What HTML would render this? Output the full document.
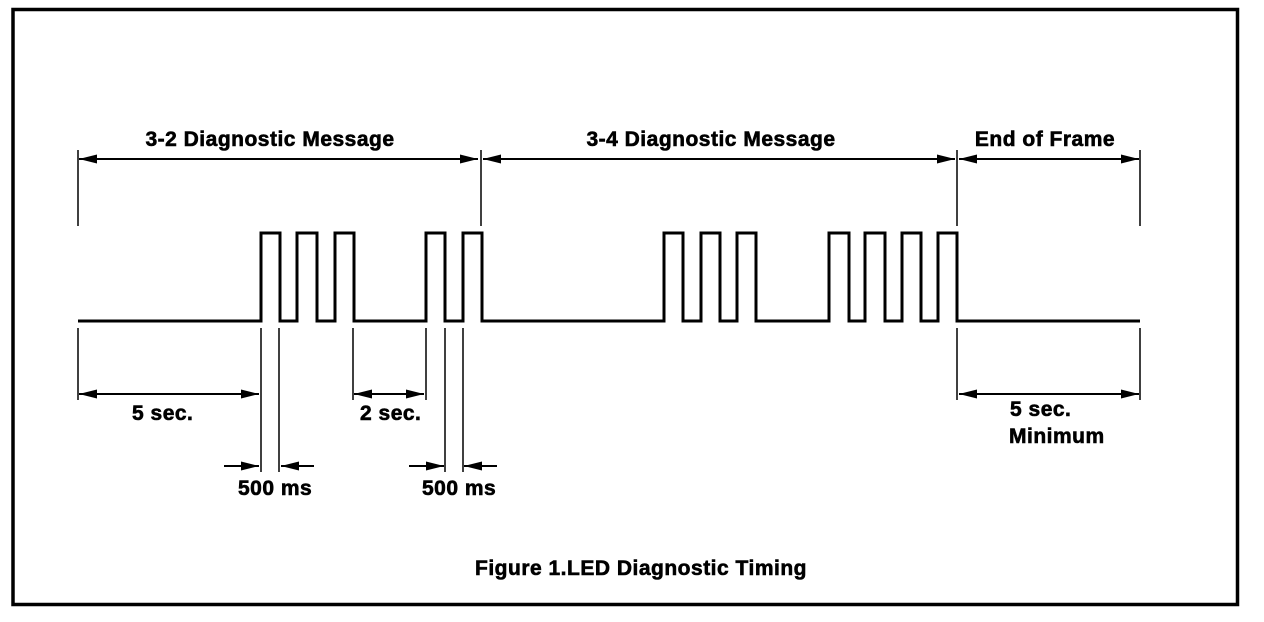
<!DOCTYPE html>
<html><head><meta charset="utf-8"><style>
html,body{margin:0;padding:0;background:#fff;width:1264px;height:622px;overflow:hidden}
svg text{font-family:"Liberation Sans",Arial,sans-serif;font-weight:bold;fill:#000;stroke:#000;stroke-width:0.6;letter-spacing:0.5px}
</style></head><body>
<svg width="1264" height="622" viewBox="0 0 1264 622" xmlns="http://www.w3.org/2000/svg">
<defs>
<marker id="ah" markerWidth="18" markerHeight="10" refX="18" refY="5" orient="auto-start-reverse" markerUnits="userSpaceOnUse">
<path d="M0,0.5 L18,5 L0,9.5 Z" fill="#000"/>
</marker>
</defs>
<rect x="13" y="9.5" width="1224.5" height="595" fill="none" stroke="#000" stroke-width="3.5"/>
<polyline fill="none" stroke="#000" stroke-width="3" points="78,321 261,321 261,233 280,233 280,321 297,321 297,233 317,233 317,321 335,321 335,233 354,233 354,321 426,321 426,233 445,233 445,321 463,321 463,233 482,233 482,321 664,321 664,233 683,233 683,321 701,321 701,233 720,233 720,321 737,321 737,233 756,233 756,321 829,321 829,233 849,233 849,321 865,321 865,233 885,233 885,321 902,321 902,233 921,233 921,321 938,321 938,233 957,233 957,321 1140,321"/>
<g stroke="#000" stroke-width="1.5">
<line x1="78" y1="150" x2="78" y2="226"/>
<line x1="481" y1="150" x2="481" y2="226"/>
<line x1="957" y1="150" x2="957" y2="226"/>
<line x1="1140" y1="150" x2="1140" y2="226"/>
<line x1="78" y1="328" x2="78" y2="400"/>
<line x1="261" y1="328" x2="261" y2="472"/>
<line x1="279" y1="328" x2="279" y2="472"/>
<line x1="353" y1="328" x2="353" y2="400"/>
<line x1="426" y1="328" x2="426" y2="400"/>
<line x1="445" y1="328" x2="445" y2="472"/>
<line x1="463" y1="328" x2="463" y2="472"/>
<line x1="957" y1="328" x2="957" y2="400"/>
<line x1="1140" y1="328" x2="1140" y2="400"/>
</g>
<g stroke="#000" stroke-width="2" fill="none">
<line x1="79" y1="159" x2="478" y2="159" marker-start="url(#ah)" marker-end="url(#ah)"/>
<line x1="483" y1="159" x2="955" y2="159" marker-start="url(#ah)" marker-end="url(#ah)"/>
<line x1="959" y1="159" x2="1139" y2="159" marker-start="url(#ah)" marker-end="url(#ah)"/>
<line x1="79" y1="394" x2="259" y2="394" marker-start="url(#ah)" marker-end="url(#ah)"/>
<line x1="354" y1="394" x2="424" y2="394" marker-start="url(#ah)" marker-end="url(#ah)"/>
<line x1="959" y1="394" x2="1139" y2="394" marker-start="url(#ah)" marker-end="url(#ah)"/>
<line x1="224" y1="466" x2="259" y2="466" marker-end="url(#ah)"/>
<line x1="314" y1="466" x2="281" y2="466" marker-end="url(#ah)"/>
<line x1="409" y1="466" x2="444" y2="466" marker-end="url(#ah)"/>
<line x1="497" y1="466" x2="464" y2="466" marker-end="url(#ah)"/>
</g>
<g font-size="21">
<text x="270" y="146" text-anchor="middle">3-2 Diagnostic Message</text>
<text x="711" y="146" text-anchor="middle">3-4 Diagnostic Message</text>
<text x="1045" y="146" text-anchor="middle">End of Frame</text>
<text x="132" y="420">5 sec.</text>
<text x="360" y="420">2 sec.</text>
<text x="238" y="495">500 ms</text>
<text x="422" y="495">500 ms</text>
<text x="1010" y="416">5 sec.</text>
<text x="1009" y="443">Minimum</text>
<text x="641" y="575" text-anchor="middle">Figure 1.LED Diagnostic Timing</text>
</g>
</svg>
</body></html>
